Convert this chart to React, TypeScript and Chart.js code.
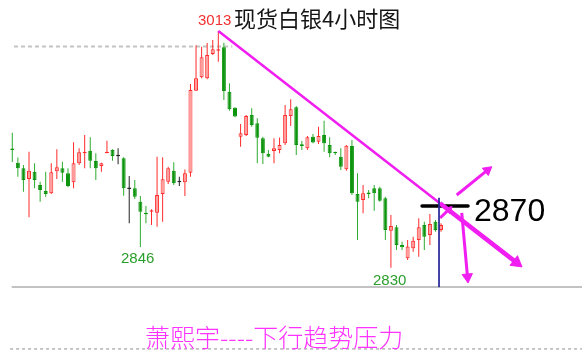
import React, { useEffect, useRef } from "react";
import { Chart, registerables } from "chart.js";

Chart.register(...registerables);

// ---- candle data (4h silver) ----
const opens = [
  2921.5, 2911.2, 2906.9, 2898.6, 2904.2, 2894.0, 2889.3, 2887.5, 2904.5, 2906.9,
  2903.0, 2896.0, 2910.7, 2918.5, 2920.5, 2912.5, 2908.6, 2918.5, 2921.0, 2916.1,
  2914.6, 2890.9, 2891.4, 2881.0, 2872.5, 2873.3, 2872.5, 2887.0, 2896.5, 2905.0,
  2896.0, 2896.0, 2903.5, 2966.9, 2977.2, 2976.5, 2995.2, 2997.8, 3000.4, 2966.1,
  2953.7, 2931.3, 2932.6, 2948.1, 2941.7, 2930.1, 2917.9, 2920.2, 2921.0, 2926.2,
  2947.3, 2954.0, 2925.4, 2922.3, 2931.3, 2927.4, 2932.6, 2924.9, 2919.5, 2915.8,
  2906.1, 2924.1, 2887.0, 2882.4, 2888.0, 2891.4, 2891.4, 2883.7, 2858.6, 2861.3,
  2847.6, 2837.3, 2845.0, 2851.4, 2863.0, 2855.3, 2865.6, 2859.2,
];
const highs = [
  2934.4, 2915.1, 2909.4, 2919.7, 2910.7, 2896.5, 2904.2, 2910.7, 2921.6, 2912.0,
  2906.9, 2927.0, 2922.3, 2932.6, 2930.8, 2918.5, 2911.2, 2928.2, 2921.6, 2922.3,
  2915.4, 2900.9, 2897.8, 2885.5, 2877.7, 2875.2, 2915.8, 2915.4, 2908.1, 2911.5,
  2900.4, 2906.0, 2972.0, 3002.0, 3000.9, 3003.8, 3006.1, 3013.0, 3004.0, 2972.6,
  2954.0, 2941.1, 2948.1, 2953.3, 2945.5, 2931.3, 2921.0, 2930.1, 2930.7, 2955.8,
  2960.2, 2955.0, 2928.0, 2931.8, 2933.4, 2939.0, 2943.7, 2930.8, 2919.7, 2922.3,
  2924.9, 2928.8, 2903.0, 2894.0, 2890.1, 2894.0, 2892.6, 2884.9, 2870.8, 2863.0,
  2850.1, 2851.4, 2854.0, 2868.2, 2865.6, 2871.5, 2866.9, 2864.3,
];
const lows = [
  2911.7, 2900.4, 2888.8, 2869.0, 2891.4, 2881.0, 2884.9, 2887.0, 2898.6, 2896.5,
  2892.2, 2891.4, 2909.4, 2906.9, 2906.9, 2897.8, 2904.2, 2918.5, 2912.7, 2910.0,
  2885.7, 2864.3, 2883.1, 2846.0, 2864.3, 2863.0, 2861.7, 2865.6, 2894.7, 2894.0,
  2893.2, 2885.5, 2900.4, 2966.9, 2976.5, 2975.7, 2994.5, 2989.3, 2959.7, 2951.4,
  2946.3, 2923.6, 2931.8, 2939.0, 2910.7, 2910.2, 2915.4, 2910.7, 2918.5, 2924.9,
  2939.6, 2917.2, 2921.0, 2921.0, 2926.2, 2925.7, 2919.7, 2915.4, 2917.2, 2905.6,
  2905.0, 2886.2, 2851.4, 2872.1, 2883.7, 2874.1, 2881.0, 2851.4, 2830.0, 2843.7,
  2843.7, 2836.0, 2842.4, 2838.5, 2843.7, 2847.6, 2857.8, 2857.8,
];
const closes = [
  2921.0, 2906.9, 2897.8, 2905.0, 2897.8, 2890.1, 2887.0, 2903.8, 2907.6, 2903.5,
  2893.2, 2910.7, 2919.2, 2919.7, 2912.7, 2906.9, 2910.7, 2919.7, 2916.4, 2916.1,
  2891.4, 2890.9, 2884.9, 2873.3, 2871.3, 2874.1, 2886.2, 2898.4, 2906.9, 2895.3,
  2896.0, 2903.0, 2967.4, 2976.5, 2992.7, 2994.5, 2998.9, 2998.9, 2966.6, 2952.5,
  2946.8, 2933.9, 2947.3, 2940.3, 2930.5, 2918.5, 2915.8, 2922.3, 2924.9, 2948.1,
  2952.5, 2924.9, 2924.1, 2930.8, 2926.7, 2931.8, 2926.2, 2918.5, 2918.5, 2908.1,
  2924.3, 2887.5, 2881.0, 2887.5, 2887.0, 2887.5, 2881.8, 2859.2, 2862.3, 2847.6,
  2845.8, 2846.3, 2850.9, 2861.3, 2854.0, 2863.8, 2859.2, 2863.0,
];

// visible ranges of the axes
const xRange = [-2.209, 102.32];
const yRange = [2764.04, 3036.97];

// texts
const titleText = "现货白银4小时图";
const highLabel = "3013";
const lowLabelA = "2846";
const lowLabelB = "2830";
const levelLabel = "2870";
const footerText = "萧熙宇----下行趋势压力";

// drawn lines, [index, price]
const topRef = [[0.3, 3001], [39.5, 3001]];
const baseLine = [[-0.1, 2815], [103, 2815]];
const footLine = [[-0.4, 2767.2], [103, 2767.2]];
const trendThin = [[37, 3013], [76.8, 2879.8]];
const trendArrow = [[76.8, 2879.8], [90.56, 2833.9]];
const upArrow = [[79.82, 2886.2], [85.34, 2905.4]];
const smallArrow = [[76.82, 2868.4], [78.4, 2874.9]];
const downArrow = [[80.72, 2872.3], [81.76, 2822.8]];
const levelMark = [[73.6, 2877.7], [81.85, 2877.7]];
const cursorLine = [[76.64, 2884], [76.64, 2815]];

const MAG = "#f01ef0";

function seg(pts: number[][], color: string, width: number, extra: any = {}) {
  return {
    type: "line",
    data: pts.map(([x, y]) => ({ x, y })),
    borderColor: color,
    borderWidth: width,
    pointRadius: 0,
    fill: false,
    tension: 0,
    order: 0,
    ...extra,
  };
}
function arrow(pts: number[][], color: string, width: number, r: number, rot: number) {
  return seg(pts, color, width, {
    pointRadius: [0, r],
    pointStyle: "triangle",
    pointRotation: rot,
    pointBackgroundColor: color,
    pointBorderColor: color,
    pointBorderWidth: 1,
  });
}

export default function App() {
  const ref = useRef<HTMLCanvasElement | null>(null);
  useEffect(() => {
    document.body.style.margin = "0";
    const kind = opens.map((o, i) => (closes[i] > o ? "up" : closes[i] < o ? "down" : "flat"));
    const wickCol = kind.map((k) => (k === "up" ? "#ff2a2a" : k === "down" ? "#2eac2e" : "#222222"));
    const bodyFill = kind.map((k) => (k === "up" ? "#ff9c9c" : k === "down" ? "#0d940d" : "#222222"));
    const bodyBorder = kind.map((k) => (k === "up" ? "#ff2a2a" : k === "down" ? "#0d940d" : "#222222"));
    const chart = new Chart(ref.current as HTMLCanvasElement, {
      type: "bar",
      data: {
        datasets: [
          {
            type: "bar",
            data: opens.map((_, i) => ({ x: i, y: [lows[i], highs[i]] })),
            backgroundColor: wickCol,
            borderWidth: 0,
            maxBarThickness: 1,
            grouped: false,
            order: 2,
          },
          {
            type: "bar",
            data: opens.map((o, i) => ({ x: i, y: [o, closes[i]] })),
            backgroundColor: bodyFill,
            borderColor: bodyBorder,
            borderWidth: 1,
            borderSkipped: false,
            maxBarThickness: 4,
            minBarLength: 1.5,
            grouped: false,
            order: 1,
          },
          seg(topRef, "#c4c4c4", 2, { borderDash: [4, 3], order: 3 }),
          seg(baseLine, "#c2c2c2", 2, { order: 3 }),
          seg(footLine, "#b4b4b4", 1.5, { borderDash: [3, 3], order: 3 }),
          seg(cursorLine, "#2a2a9a", 1),
          seg(trendThin, MAG, 2.5),
          arrow(trendArrow, MAG, 4.5, 7, 127.8),
          arrow(upArrow, MAG, 3, 5.5, 51),
          arrow(smallArrow, MAG, 3, 4.5, 46.2),
          arrow(downArrow, MAG, 3, 6, 174.9),
          seg(levelMark, "#000000", 3.5, { borderCapStyle: "round" }),
        ] as any,
      },
      options: {
        responsive: false,
        animation: false,
        devicePixelRatio: 1,
        events: [],
        layout: { padding: 0, autoPadding: false },
        plugins: { legend: { display: false }, title: { display: false }, tooltip: { enabled: false } },
        scales: {
          x: { type: "linear", min: xRange[0], max: xRange[1], display: false, offset: false, bounds: "data" },
          y: { type: "linear", min: yRange[0], max: yRange[1], display: false, offset: false, beginAtZero: false },
        },
      } as any,
    });
    return () => chart.destroy();
  }, []);

  const txt = (extra: React.CSSProperties): React.CSSProperties => ({
    position: "absolute",
    whiteSpace: "nowrap",
    lineHeight: 1,
    margin: 0,
    ...extra,
  });

  return (
    <div style={{ position: "relative", width: 582, height: 353, background: "#fff", overflow: "hidden" }}>
      <canvas ref={ref} width={582} height={353} style={{ position: "absolute", left: 0, top: 0, width: 582, height: 353 }} />
      <span style={txt({ left: 198, top: 12, fontSize: 15, fontFamily: "'Liberation Sans', Arial, sans-serif", color: "#f03030" })}>{highLabel}</span>
      <span style={txt({ left: 234, top: 6, fontSize: 22, fontFamily: "'Noto Sans CJK SC', sans-serif", color: "#151515" })}>{titleText}</span>
      <span style={txt({ left: 121, top: 250, fontSize: 15, fontFamily: "'Liberation Sans', Arial, sans-serif", color: "#2a9e2a" })}>{lowLabelA}</span>
      <span style={txt({ left: 373, top: 272, fontSize: 15, fontFamily: "'Liberation Sans', Arial, sans-serif", color: "#2a9e2a" })}>{lowLabelB}</span>
      <span style={txt({ left: 474, top: 194, fontSize: 32, fontFamily: "'Liberation Sans', Arial, sans-serif", color: "#000" })}>{levelLabel}</span>
      <span style={txt({ left: 145, top: 324, fontSize: 25, fontWeight: 300, fontFamily: "'Noto Sans CJK SC', sans-serif", color: "#ff33ff" })}>{footerText}</span>
    </div>
  );
}
